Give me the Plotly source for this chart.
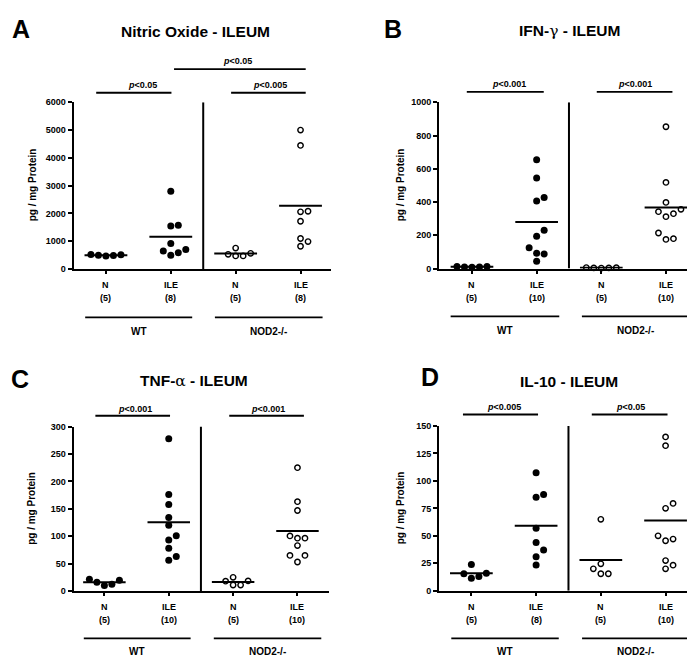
import plotly.graph_objects as go
import numpy as np

W, H = 695, 657
FONT = "Liberation Sans, Arial, Helvetica, sans-serif"

categories = ["N", "ILE", "N", "ILE"]
genotypes = ["WT", "NOD2-/-"]

# A - Nitric Oxide
no_wt_n = [520, 500, 470, 490, 510]
no_wt_ile = [2800, 1577, 1553, 918, 647, 706, 494, 588]
no_nod_n = [529, 753, 471, 471, 565]
no_nod_ile = [5000, 4450, 2080, 2060, 1720, 1100, 990, 820]
no_ticks = [0, 1000, 2000, 3000, 4000, 5000, 6000]
no_p = ["p<0.05", "p<0.005", "p<0.05"]

# B - IFN-gamma
ifn_wt_n = [12, 10, 8, 9, 13]
ifn_wt_ile = [654, 545, 427, 407, 230, 194, 125, 92, 88, 44]
ifn_nod_n = [5, 4, 3, 4, 6]
ifn_nod_ile = [853, 518, 398, 356, 342, 330, 312, 214, 180, 175]
ifn_ticks = [0, 200, 400, 600, 800, 1000]
ifn_p = ["p<0.001", "p<0.001"]

# C - TNF-alpha
tnf_wt_n = [21.6, 16, 10, 12.6, 19.8]
tnf_wt_ile = [278, 176, 158, 134, 120, 101, 93, 78, 63, 56]
tnf_nod_n = [18, 25, 11, 11, 18.5]
tnf_nod_ile = [225, 163, 147, 100.6, 96.5, 96.5, 83, 65, 65, 53]
tnf_ticks = [0, 50, 100, 150, 200, 250, 300]
tnf_p = ["p<0.001", "p<0.001"]

# D - IL-10
il10_wt_n = [24, 15.5, 11.5, 13, 16]
il10_wt_ile = [107.5, 87.5, 85, 57, 44, 37, 31, 23.5]
il10_nod_n = [65, 24.5, 20, 15.5, 15.5]
il10_nod_ile = [140, 132, 79.5, 75, 50, 47, 45.5, 27.5, 23.3, 20]
il10_ticks = [0, 25, 50, 75, 100, 125, 150]
il10_p = ["p<0.005", "p<0.05"]

GAMMA = "<span style='font-family:DejaVu Serif;font-weight:normal'>γ</span>"
ALPHA = "<span style='font-family:DejaVu Serif;font-weight:normal'>α</span>"

panels = [
    dict(letter="A", title="Nitric Oxide - ILEUM", data=[no_wt_n, no_wt_ile, no_nod_n, no_nod_ile],
         ticks=no_ticks, xpx=(65.5, 323), ypx=(90.7, 260), xr=(-0.5, 3.47),
         letter_pos=(13.5, 16), title_pos=(187, 19), ytitle_pos=(24, 175),
         sig=[(no_p[0], 134, 73, 81, -0.15, 1.01), (no_p[1], 262, 73, 81, 1.93, 3.08),
              (no_p[2], 229, 49, 57, 1.05, 3.08)],
         cat_y=(276.7, 289), grp_y=309, grp_txt_y=323, grp=[(-0.32, 1.33), (1.68, 3.34)]),
    dict(letter="B", title="IFN-" + GAMMA + " - ILEUM", data=[ifn_wt_n, ifn_wt_ile, ifn_nod_n, ifn_nod_ile],
         ticks=ifn_ticks, xpx=(431, 689), ypx=(90.7, 259.5), xr=(-0.51, 3.48),
         letter_pos=(385, 16), title_pos=(561, 18), ytitle_pos=(392, 175),
         sig=[(ifn_p[0], 500.7, 72, 80, -0.08, 1.11), (ifn_p[1], 627.3, 72, 80, 1.93, 3.1)],
         cat_y=(276, 289), grp_y=308, grp_txt_y=322.7, grp=[(-0.33, 1.35), (1.7, 3.37)]),
    dict(letter="C", title="TNF-" + ALPHA + " - ILEUM", data=[tnf_wt_n, tnf_wt_ile, tnf_nod_n, tnf_nod_ile],
         ticks=tnf_ticks, xpx=(65.5, 321), ypx=(420, 587), xr=(-0.48, 3.49),
         letter_pos=(12, 372), title_pos=(186, 374), ytitle_pos=(24, 503.5),
         sig=[(tnf_p[0], 127, 401.7, 409, -0.14, 1.02), (tnf_p[1], 260, 401.7, 409, 1.94, 3.1)],
         cat_y=(602.7, 616), grp_y=635, grp_txt_y=648, grp=[(-0.32, 1.34), (1.7, 3.37)]),
    dict(letter="D", title="IL-10 - ILEUM", data=[il10_wt_n, il10_wt_ile, il10_nod_n, il10_nod_ile],
         ticks=il10_ticks, xpx=(431, 688), ypx=(419.3, 586.7), xr=(-0.5, 3.47),
         letter_pos=(422, 370), title_pos=(561, 374), ytitle_pos=(392, 503),
         sig=[(il10_p[0], 495.5, 400, 407.7, -0.13, 1.03), (il10_p[1], 622.8, 400, 407.7, 1.86, 3.03)],
         cat_y=(602.7, 616), grp_y=635, grp_txt_y=648, grp=[(-0.31, 1.35), (1.71, 3.36)]),
]


def swarm(vals, ppu_y, step_px, ppu_x, thresh=7.5):
    vals = np.asarray(vals, dtype=float)
    order = np.argsort(vals, kind="stable")
    placed = []
    offs = np.zeros(len(vals))
    cands = [0, 1, -1, 2, -2, 3, -3, 4, -4]
    for i in order:
        ypx = vals[i] * ppu_y
        xpx = 0.0
        for c in cands:
            xpx = c * step_px
            if all((xpx - a) ** 2 + (ypx - b) ** 2 >= thresh ** 2 - 1e-9 for a, b in placed):
                break
        placed.append((xpx, ypx))
        offs[i] = xpx / ppu_x
    return offs


def f(size, bold=True):
    d = dict(family=FONT, size=size, color="black")
    if bold:
        d["weight"] = "bold"
    return d


def ptext(s):
    return "<i>p</i>" + s[1:].replace("<", "&lt;")


fig = go.Figure()
layout = dict(width=W, height=H, margin=dict(l=0, r=0, t=0, b=0),
              paper_bgcolor="white", plot_bgcolor="white", showlegend=False)
shapes = []
annotations = []

for k, p in enumerate(panels):
    ax = "" if k == 0 else str(k + 1)
    xa, ya = "x" + ax, "y" + ax
    ymax = p["ticks"][-1]
    x0, x1 = p["xpx"]
    yt, yb = p["ypx"]
    ppu_y = (yb - yt) / ymax
    ppu_x = (x1 - x0) / (p["xr"][1] - p["xr"][0])
    layout["xaxis" + ax] = dict(domain=[x0 / W, x1 / W], range=list(p["xr"]), anchor=ya,
                                showline=True, linewidth=2, linecolor="black", showgrid=False,
                                zeroline=False, tickvals=[0, 1, 2, 3], showticklabels=False,
                                ticks="outside", ticklen=3, tickwidth=1.5, tickcolor="black")
    layout["yaxis" + ax] = dict(domain=[1 - yb / H, 1 - yt / H], range=[0, ymax], anchor=xa,
                                showline=True, linewidth=2, linecolor="black", showgrid=False,
                                zeroline=False, tickvals=p["ticks"], ticks="outside", ticklen=4,
                                tickwidth=1.5, tickcolor="black", tickfont=f(9))
    for gi, vals in enumerate(p["data"]):
        offs = swarm(vals, ppu_y, 7.5, ppu_x)
        m = float(np.mean(vals))
        fig.add_trace(go.Scatter(x=[gi - 0.33, gi + 0.33], y=[m, m], mode="lines",
                                 line=dict(color="black", width=2), xaxis=xa, yaxis=ya,
                                 hoverinfo="skip"))
        filled = gi < 2
        fig.add_trace(go.Scatter(
            x=gi + offs, y=vals, mode="markers", xaxis=xa, yaxis=ya, cliponaxis=False,
            marker=dict(symbol="circle" if filled else "circle-open",
                        size=7 if filled else 5.4, color="black",
                        line=dict(width=0 if filled else 1.4, color="black"))))
        annotations.append(dict(text=categories[gi], x=gi, xref=xa, y=1 - p["cat_y"][0] / H,
                                yref="paper", showarrow=False, font=f(9),
                                xanchor="center", yanchor="middle"))
        annotations.append(dict(text="(%d)" % len(vals), x=gi, xref=xa, y=1 - p["cat_y"][1] / H,
                                yref="paper", showarrow=False, font=f(9),
                                xanchor="center", yanchor="middle"))
    shapes.append(dict(type="line", xref=xa, yref=ya, x0=1.5, x1=1.5, y0=0, y1=ymax,
                       line=dict(color="black", width=2)))
    for gname, (g0, g1) in zip(genotypes, p["grp"]):
        shapes.append(dict(type="line", xref=xa, yref="paper", x0=g0, x1=g1,
                           y0=1 - p["grp_y"] / H, y1=1 - p["grp_y"] / H,
                           line=dict(color="black", width=1.8)))
        annotations.append(dict(text=gname, x=(g0 + g1) / 2, xref=xa, y=1 - p["grp_txt_y"] / H,
                                yref="paper", showarrow=False, font=f(10),
                                xanchor="center", yanchor="middle"))
    for txt, tx, ty, ly, s0, s1 in p["sig"]:
        shapes.append(dict(type="line", xref=xa, yref="paper", x0=s0, x1=s1,
                           y0=1 - ly / H, y1=1 - ly / H, line=dict(color="black", width=1.8)))
        annotations.append(dict(text=ptext(txt), x=tx / W, xref="paper", y=1 - ty / H,
                                yref="paper", showarrow=False, font=f(9),
                                xanchor="center", yanchor="middle"))
    annotations.append(dict(text=p["letter"], x=p["letter_pos"][0] / W, y=1 - p["letter_pos"][1] / H,
                            xref="paper", yref="paper", showarrow=False, font=f(25),
                            xanchor="center", yanchor="middle"))
    annotations.append(dict(text=p["title"], x=p["title_pos"][0] / W, y=1 - p["title_pos"][1] / H,
                            xref="paper", yref="paper", showarrow=False, font=f(15.5),
                            xanchor="center", yanchor="middle"))
    annotations.append(dict(text="pg / mg Protein", x=p["ytitle_pos"][0] / W,
                            y=1 - p["ytitle_pos"][1] / H, xref="paper", yref="paper",
                            showarrow=False, font=f(10), textangle=-90,
                            xanchor="center", yanchor="middle"))

layout["shapes"] = shapes
layout["annotations"] = annotations
fig.update_layout(**layout)
fig.write_html("out.html")
